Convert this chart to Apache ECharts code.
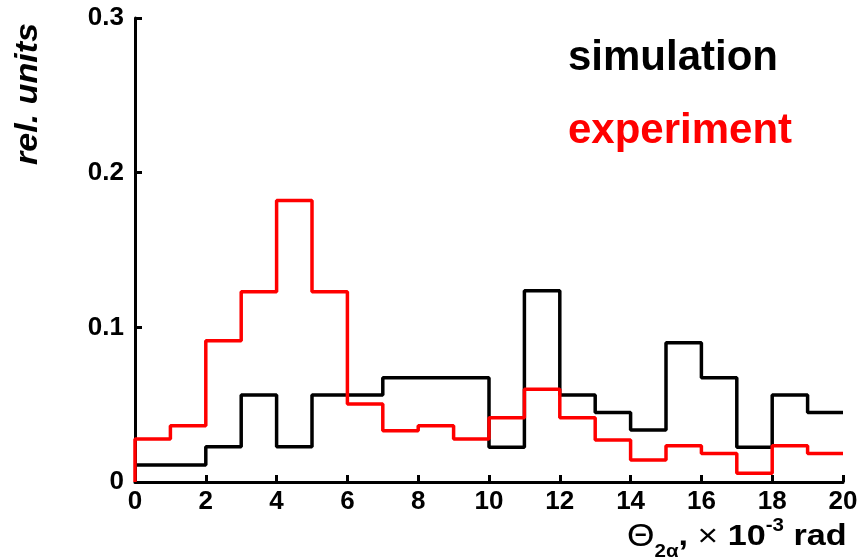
<!DOCTYPE html>
<html>
<head>
<meta charset="utf-8">
<script src="https://cdn.jsdelivr.net/npm/echarts@6/dist/echarts.min.js"></script>
<style>
  html, body { margin: 0; padding: 0; background: #fff; }
  #chart { width: 862px; height: 560px; }
</style>
</head>
<body>
<div id="chart"></div>
<script>
// Histogram bins: left edges 0..19, width 1 (x 10^-3 rad)
const binStarts = [0, 1, 2, 3, 4, 5, 6, 7, 8, 9, 10, 11, 12, 13, 14, 15, 16, 17, 18, 19];
const binWidth = 1;

const simulation = [0.011, 0.011, 0.0228, 0.0562, 0.0228, 0.0562, 0.0562, 0.0674, 0.0674, 0.0674,
                    0.0224, 0.1237, 0.0562, 0.045, 0.0336, 0.09, 0.0674, 0.0224, 0.0562, 0.045];
const experiment = [0.0278, 0.0364, 0.0913, 0.123, 0.182, 0.123, 0.0504, 0.0332, 0.0364, 0.0278,
                    0.0416, 0.06, 0.0416, 0.0272, 0.0142, 0.0235, 0.0185, 0.0056, 0.0235, 0.0185];

const xTicks = [0, 2, 4, 6, 8, 10, 12, 14, 16, 18, 20];
const yTicks = [0, 0.1, 0.2, 0.3];

// Turn bin values into step-line vertices: one point per bin start plus the closing edge
function stepPoints(values, fromZero) {
  const pts = [];
  if (fromZero) pts.push([binStarts[0], 0]);
  binStarts.forEach((x, i) => pts.push([x, values[i]]));
  const last = binStarts.length - 1;
  pts.push([binStarts[last] + binWidth, values[last]]);
  return pts;
}

const FONT = '"Liberation Sans", Arial, sans-serif';
const chart = echarts.init(document.getElementById('chart'));

chart.setOption({
  animation: false,
  backgroundColor: '#fff',
  grid: { left: 135, right: 19, top: 18, bottom: 78, containLabel: false },
  legend: {
    orient: 'vertical',
    left: 557,
    top: 32,
    itemWidth: 0,
    itemHeight: 0,
    itemGap: 31,
    selectedMode: false,
    textStyle: { fontSize: 42, fontWeight: 'bold', fontFamily: FONT, lineHeight: 42 },
    data: [
      { name: 'simulation', textStyle: { color: '#000' } },
      { name: 'experiment', textStyle: { color: '#ff0000' } }
    ]
  },
  xAxis: {
    type: 'value',
    min: xTicks[0],
    max: xTicks[xTicks.length - 1],
    interval: xTicks[1] - xTicks[0],
    axisLine: { lineStyle: { color: '#000', width: 3 } },
    axisTick: { inside: true, length: 7, lineStyle: { color: '#000', width: 3 } },
    axisLabel: { color: '#000', fontSize: 26, fontWeight: 'bold', fontFamily: FONT, margin: 7 },
    splitLine: { show: false }
  },
  yAxis: {
    type: 'value',
    min: yTicks[0],
    max: yTicks[yTicks.length - 1],
    interval: 0.1,
    axisLine: { show: true, lineStyle: { color: '#000', width: 3 } },
    axisTick: { show: true, inside: true, length: 7, lineStyle: { color: '#000', width: 3 } },
    axisLabel: {
      color: '#000', fontSize: 26, fontWeight: 'bold', fontFamily: FONT, margin: 11,
      formatter: v => String(Math.round(v * 10) / 10)
    },
    splitLine: { show: false }
  },
  graphic: [
    {
      type: 'text',
      x: 28, y: 94,
      rotation: Math.PI / 2,
      scaleX: 1.1,
      style: {
        text: 'rel. units',
        fill: '#000',
        font: 'italic bold 31px ' + FONT,
        textAlign: 'center',
        textVerticalAlign: 'middle'
      }
    },
    {
      type: 'text',
      x: 627, y: 537,
      scaleX: 1.14,
      style: {
        text: '{t|Θ}{sub|2α}{b|, }{x|×}{b| 10}{sup|-3}{b| rad}',
        fill: '#000',
        textAlign: 'left',
        textVerticalAlign: 'middle',
        rich: {
          t: { fontSize: 31, fontFamily: FONT, fontWeight: 'normal', lineHeight: 30, verticalAlign: 'middle' },
          sub: { fontSize: 18, fontFamily: FONT, fontWeight: 'bold', lineHeight: 18, padding: [30, 0, 0, 0], verticalAlign: 'middle' },
          x: { fontSize: 31, fontFamily: FONT, fontWeight: 'normal', lineHeight: 30, verticalAlign: 'middle' },
          b: { fontSize: 30, fontFamily: FONT, fontWeight: 'bold', lineHeight: 30, verticalAlign: 'middle' },
          sup: { fontSize: 18, fontFamily: FONT, fontWeight: 'bold', lineHeight: 18, padding: [0, 0, 22, 0], verticalAlign: 'middle' }
        }
      }
    }
  ],
  series: [
    {
      name: 'simulation',
      type: 'line',
      step: 'end',
      symbol: 'none',
      color: '#000',
      lineStyle: { color: '#000', width: 3.5 },
      data: stepPoints(simulation, false)
    },
    {
      name: 'experiment',
      type: 'line',
      step: 'end',
      symbol: 'none',
      color: '#ff0000',
      lineStyle: { color: '#ff0000', width: 3.5 },
      data: stepPoints(experiment, true)
    }
  ]
});
</script>
</body>
</html>
